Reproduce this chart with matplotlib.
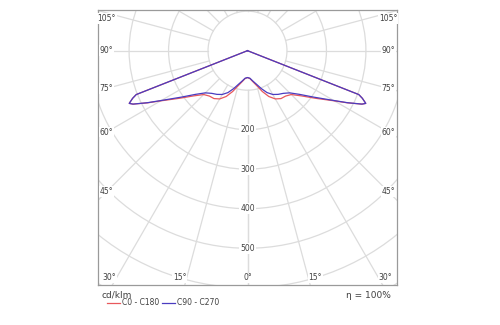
import numpy as np
import matplotlib.pyplot as plt
from matplotlib.patches import Circle, Rectangle

# luminous intensity distribution, cd/klm, gamma measured from nadir
gamma = [0, 5, 10, 15, 20, 25, 30, 35, 40, 45, 50, 55, 60, 62.5, 65, 66, 67.5, 68.5, 70, 80, 90, 180]
c0_c180 = [68, 71, 80, 92, 110, 128, 141, 148, 150, 157, 178, 210, 254, 286, 320, 328, 315, 303, 0, 0, 0, 0]
c90_c270 = [68, 70, 78, 88, 102, 117, 128, 135, 141, 151, 172, 205, 252, 285, 320, 328, 315, 303, 0, 0, 0, 0]

ring_values = [100, 200, 300, 400, 500, 600, 700, 800]
ring_labels = [200, 300, 400, 500]
ray_angles = list(range(0, 181, 15))
edge_labels = [0, 15, 30, 45, 60, 75, 90, 105]

GRID = '#dcdcdc'
TEXT = '#404040'
RED = '#e8585c'
BLUE = '#4a3cc0'

X = 378.0
Y_TOP = 103.0
Y_BOT = -593.0

fig = plt.figure(figsize=(5, 3.25), dpi=100)
ax = fig.add_axes([0.1966, 0.1231, 0.5968, 0.8462])
ax.set_xlim(-X, X)
ax.set_ylim(Y_BOT, Y_TOP)
ax.set_aspect('auto')
ax.set_xticks([])
ax.set_yticks([])
for s in ax.spines.values():
    s.set_color('#9a9a9a')
    s.set_linewidth(0.9)

clip = Rectangle((-X, Y_BOT), 2 * X, Y_TOP - Y_BOT, transform=ax.transData)

# rings
for r in ring_values:
    c = Circle((0, 0), r, fill=False, ec=GRID, lw=0.9, zorder=1)
    ax.add_patch(c)
    c.set_clip_path(clip)

# rays, starting at the innermost ring
for a in ray_angles:
    for side in (-1, 1):
        t = np.radians(a)
        dx, dy = side * np.sin(t), -np.cos(t)
        ax.plot([100 * dx, 1200 * dx], [100 * dy, 1200 * dy], color=GRID, lw=0.9, zorder=1, clip_on=True)

# intensity labels along the nadir ray
for r in ring_labels:
    ax.text(0, -r, str(r), ha='center', va='center', fontsize=5.5, color=TEXT, zorder=3,
            bbox=dict(boxstyle='square,pad=0.15', fc='white', ec='none'))

# angle labels where the rays meet the frame
m_side = 21.0
m_bot = 18.0
for a in edge_labels:
    t = np.radians(a)
    for side in ((-1, 1) if a else (1,)):
        dx, dy = side * np.sin(t), -np.cos(t)
        if a == 0:
            x, y, ha = 0, Y_BOT + m_bot, 'center'
        else:
            # hit with the side inset first
            k = (X - m_side) / abs(dx)
            x, y = dx * k, dy * k
            ha = 'center'
            if y < Y_BOT + m_bot:
                k = (Y_BOT + m_bot) / dy
                x, y = dx * k, Y_BOT + m_bot
                x = np.clip(x, -(X - m_side), X - m_side)
                ha = 'center' if abs(x) >= X - m_side - 1 else ('right' if side < 0 else 'left')
            if y > Y_TOP - 22:
                y = Y_TOP - 22
        ax.text(x, y, f'{a}°', ha=ha, va='center', fontsize=5.5, color=TEXT, zorder=3,
                bbox=dict(boxstyle='square,pad=0.1', fc='white', ec='none'))

# curves: C0 to the right and C180 mirrored to the left, same for C90/C270
g = np.radians(np.array(gamma, dtype=float))


def polar_xy(vals):
    v = np.array(vals, dtype=float)
    x_r, y_r = v * np.sin(g), -v * np.cos(g)
    xs = np.concatenate([-x_r[::-1], x_r[1:]])
    ys = np.concatenate([y_r[::-1], y_r[1:]])
    return xs, ys


xr, yr = polar_xy(c0_c180)
xb, yb = polar_xy(c90_c270)
ax.plot(xr, yr, color=RED, lw=0.9, zorder=4)
ax.plot(xb, yb, color=BLUE, lw=0.9, zorder=5)

# footer
fig.text(0.204, 0.092, 'cd/klm', fontsize=6.5, color=TEXT, ha='left', va='center')
fig.text(0.782, 0.092, 'η = 100%', fontsize=6.5, color=TEXT, ha='right', va='center')
fig.lines.append(plt.Line2D([0.213, 0.240], [0.069, 0.069], color=RED, lw=0.9, transform=fig.transFigure))
fig.text(0.244, 0.069, 'C0 - C180', fontsize=5.5, color=TEXT, ha='left', va='center')
fig.lines.append(plt.Line2D([0.323, 0.350], [0.069, 0.069], color=BLUE, lw=0.9, transform=fig.transFigure))
fig.text(0.354, 0.069, 'C90 - C270', fontsize=5.5, color=TEXT, ha='left', va='center')

fig.savefig('out.png', dpi=100, facecolor='white')
